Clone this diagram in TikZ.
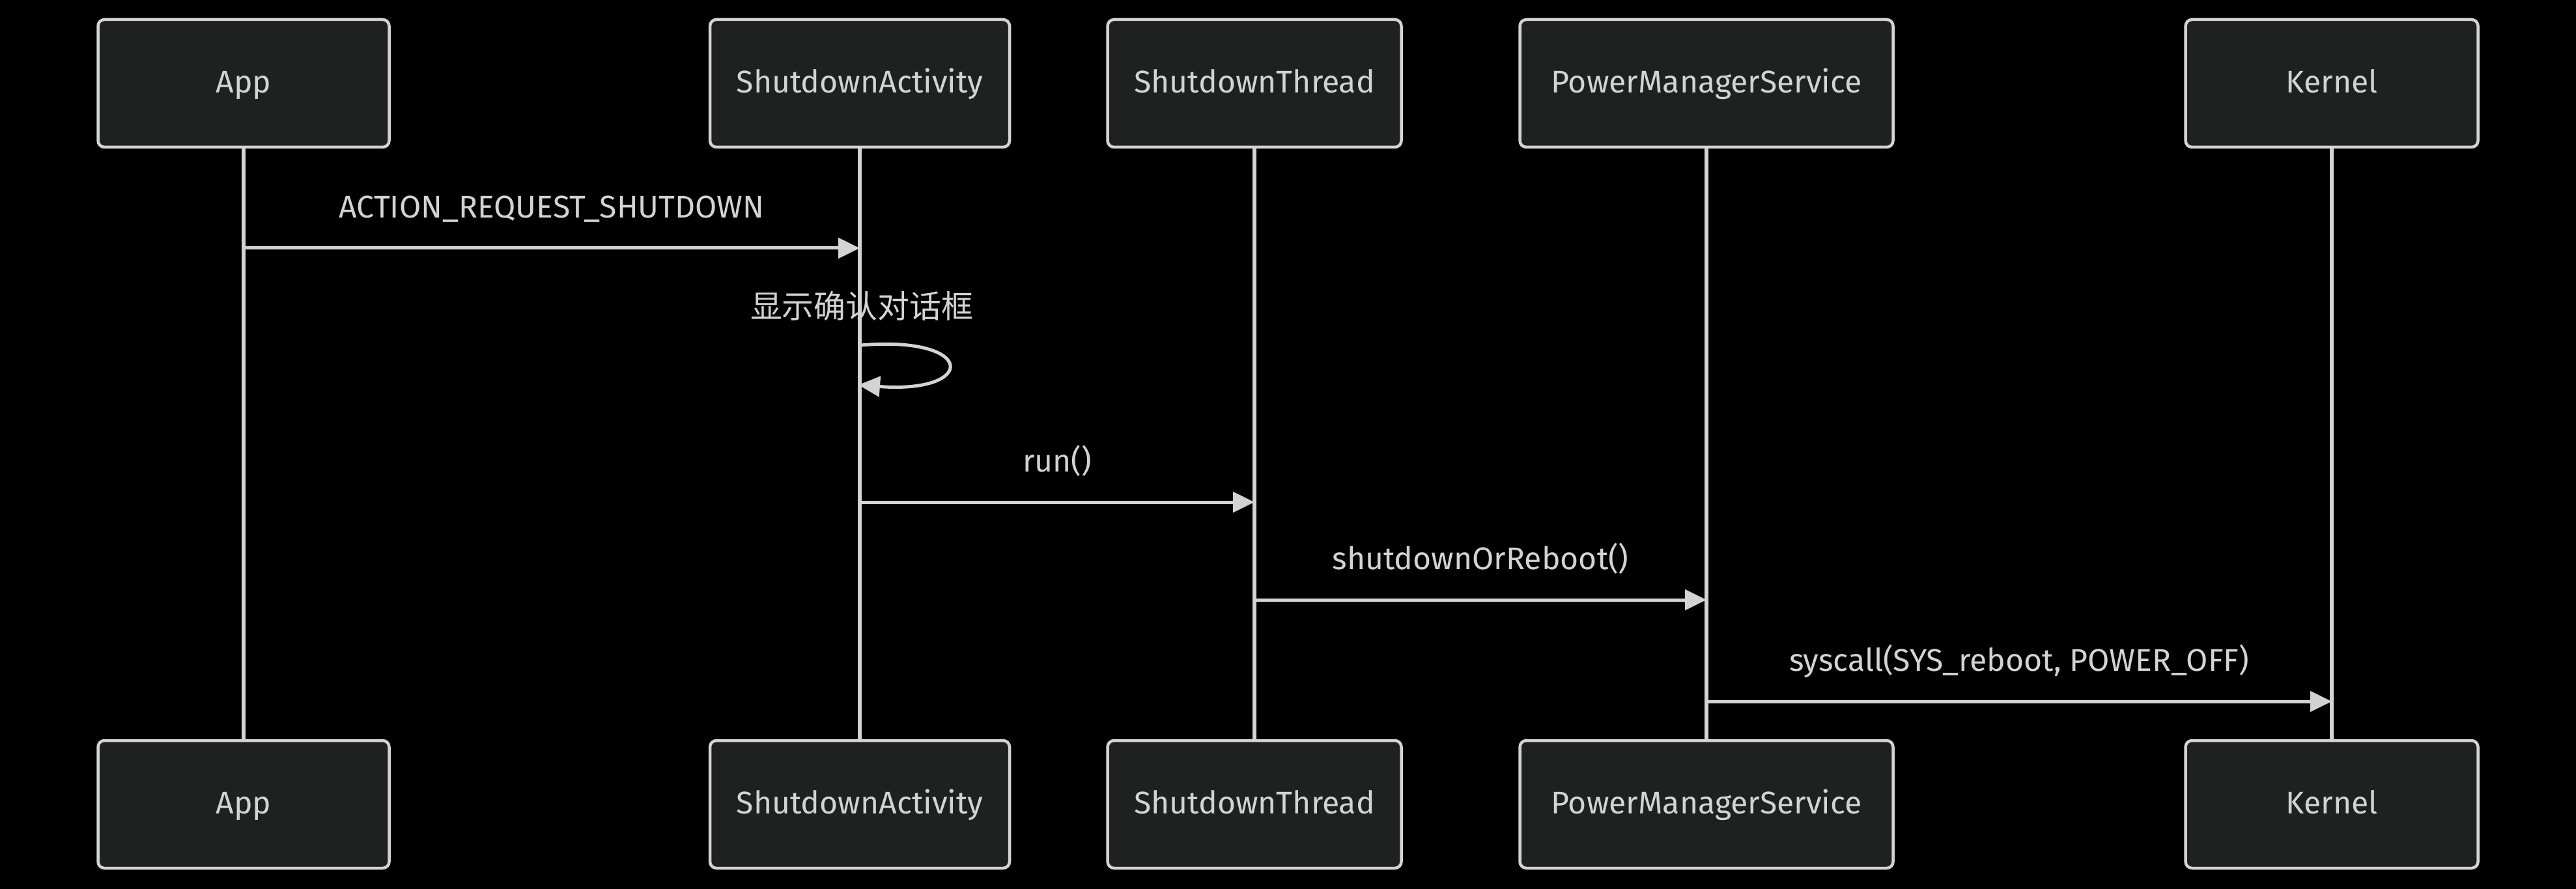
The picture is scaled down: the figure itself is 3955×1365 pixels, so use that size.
\documentclass[tikz,border=0pt]{standalone}
\usepackage{fontspec}
\setmainfont{Fira Sans}
\newfontfamily\cjk{Noto Sans CJK SC}
\usetikzlibrary{arrows.meta}
\definecolor{boxfill}{HTML}{1F2020}
\definecolor{lgrey}{HTML}{D3D3D3}
\begin{document}
\begin{tikzpicture}[x=0.1mm,y=-0.1mm,
  actor/.style={draw=lgrey,fill=boxfill,line width=0.45mm,rounded corners=1mm,
    minimum height=19.6mm,text height=0.9em,text depth=0.09em,text=lgrey,
    font=\fontsize{13.7}{16}\selectfont},
  life/.style={draw=lgrey,line width=0.55mm},
  msg/.style={draw=lgrey,line width=0.5mm,-{Triangle[length=3.3mm,width=3.1mm]}},
  lbl/.style={text=lgrey,anchor=base,font=\fontsize{13.7}{16}\selectfont}]

\def\hi{-0.465cm}

\def\msg#1#2#3#4#5{
  \coordinate (#1-#5) at (#1-top.south |- 0,#3);
  \coordinate (#2-#5) at (#2-top.south |- 0,#3);
  \draw[msg] (#1-#5) -- node[lbl,yshift=-\hi] (#5) {#4} (#2-#5);
}

\fill[black] (0,0) rectangle (3955,1365);

% lifelines
\foreach \name/\x in {app/374,sa/1320,st/1926,pms/2620,kern/3580} {
  \coordinate (\name-top) at (\x,226);
  \coordinate (\name-bot) at (\x,1137);
  \draw[life] (\name-top) -- (\name-bot);
}

% actor boxes, top and bottom
\foreach \name/\x/\w/\txt in {app/374/44.7/App,sa/1320/46.0/ShutdownActivity,
  st/1926/45.1/ShutdownThread,pms/2620/57.3/PowerManagerService,kern/3580/44.9/Kernel} {
  \node[actor,minimum width=\w mm] (\name-head) at (\x,128) {\txt};
  \node[actor,minimum width=\w mm] (\name-foot) at (\x,1235) {\txt};
}

% messages
\msg{app}{sa}{381}{ACTION\_REQUEST\_SHUTDOWN}{req}
\msg{sa}{st}{771}{run()}{run}
\msg{st}{pms}{921}{shutdownOrReboot()}{sor}
\msg{pms}{kern}{1077}{syscall(SYS\_reboot, POWER\_OFF)}{sys}

% self message
\coordinate (loop-a) at (1322,530);
\coordinate (loop-b) at (1318,591);
\draw[msg] (loop-a) .. controls (1500,515) and (1500,605) .. (loop-b);
\node[lbl,font=\cjk\fontsize{13.9}{16}\selectfont] (dlg) at (1323,489) {显示确认对话框};

\end{tikzpicture}
\end{document}
